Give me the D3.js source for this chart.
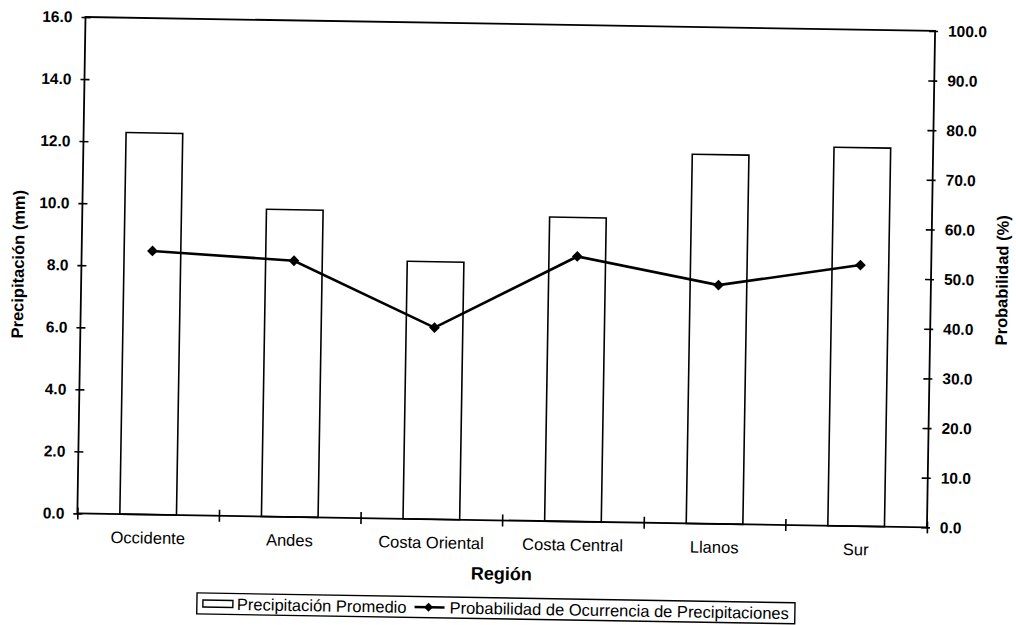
<!DOCTYPE html>
<html>
<head>
<meta charset="utf-8">
<script src="https://cdn.jsdelivr.net/npm/d3@7"></script>
<style>
  html, body { margin: 0; padding: 0; background: #fff; }
  svg { display: block; font-family: "Liberation Sans", Arial, sans-serif; }
</style>
</head>
<body>
<svg id="chart" width="1016" height="625"></svg>
<script>
// ---- data ----
const categories = ["Occidente", "Andes", "Costa Oriental", "Costa Central", "Llanos", "Sur"];
const precipitation = [12.3, 9.9, 8.3, 9.8, 11.9, 12.2];
const probability = [53.1, 51.6, 38.6, 53.4, 48.1, 52.6];
const leftTicks = [0, 2, 4, 6, 8, 10, 12, 14, 16];
const rightTicks = [0, 10, 20, 30, 40, 50, 60, 70, 80, 90, 100];
const boundaryTicks = [0, 1, 2, 3, 4, 5, 6];
const xTitle = "Región";
const yLeftTitle = "Precipitación (mm)";
const yRightTitle = "Probabilidad (%)";
const legendBar = "Precipitación Promedio";
const legendLine = "Probabilidad de Ocurrencia de Precipitaciones";

// ---- layout ----
const L = 85.5, R = 935.2, T = 17, B = 513.5;
const svg = d3.select("#chart");
svg.append("rect").attr("width", 1016).attr("height", 625).attr("fill", "#fff");
// the scanned original is tilted slightly clockwise
const g = svg.append("g").attr("transform", `rotate(0.94, ${L}, ${T})`);

const x = d3.scaleBand().domain(categories).range([L, R]).paddingInner(0.6).paddingOuter(0.3);
const xb = d3.scaleLinear().domain([0, 6]).range([L, R]);
const yL = d3.scaleLinear().domain([0, 16]).range([B, T]);
const yR = d3.scaleLinear().domain([0, 100]).range([B, T]);

// bars
g.append("g").selectAll("rect").data(categories).join("rect")
  .attr("x", d => x(d))
  .attr("y", (d, i) => yL(precipitation[i]))
  .attr("width", x.bandwidth())
  .attr("height", (d, i) => B - yL(precipitation[i]))
  .attr("fill", "#fff").attr("stroke", "#000").attr("stroke-width", 1.6);

// plot border
g.append("rect").attr("x", L).attr("y", T).attr("width", R - L).attr("height", B - T)
  .attr("fill", "none").attr("stroke", "#000").attr("stroke-width", 1.8);

// left axis
const axL = g.append("g").attr("transform", `translate(${L},0)`)
  .call(d3.axisLeft(yL).tickValues(leftTicks).tickFormat(d3.format(".1f")).tickSize(4).tickPadding(9));
axL.select(".domain").remove();
axL.selectAll(".tick line").attr("x1", 5).attr("x2", -4).attr("stroke-width", 1.6);
axL.selectAll(".tick text").attr("font-size", 15.5).attr("font-weight", "bold").attr("fill", "#000")
  .attr("font-family", "Liberation Sans, Arial, sans-serif");

// right axis
const axR = g.append("g").attr("transform", `translate(${R},0)`)
  .call(d3.axisRight(yR).tickValues(rightTicks).tickFormat(d3.format(".1f")).tickSize(3).tickPadding(10));
axR.select(".domain").remove();
axR.selectAll(".tick line").attr("x1", -6).attr("x2", 3).attr("stroke-width", 1.6);
axR.selectAll(".tick text").attr("font-size", 15.5).attr("font-weight", "bold").attr("fill", "#000")
  .attr("font-family", "Liberation Sans, Arial, sans-serif");

// bottom boundary ticks
const axB = g.append("g").attr("transform", `translate(0,${B})`)
  .call(d3.axisBottom(xb).tickValues(boundaryTicks).tickFormat("").tickSize(6));
axB.select(".domain").remove();
axB.selectAll(".tick line").attr("y1", -6).attr("y2", 6).attr("stroke-width", 1.6);

// category labels
const axC = g.append("g").attr("transform", `translate(0,${B})`)
  .call(d3.axisBottom(x).tickSize(0).tickPadding(0));
axC.select(".domain").remove();
axC.selectAll(".tick text").attr("y", 29).attr("dy", null)
  .attr("font-size", 16.5).attr("fill", "#000")
  .attr("font-family", "Liberation Sans, Arial, sans-serif");

// line series
const linePts = categories.map((c, i) => [x(c) + x.bandwidth() / 2, yR(probability[i])]);
g.append("path").datum(linePts)
  .attr("d", d3.line())
  .attr("fill", "none").attr("stroke", "#000").attr("stroke-width", 2.6);
const diamond = d3.symbol(d3.symbolSquare, 58);
g.append("g").selectAll("path").data(linePts).join("path")
  .attr("d", diamond)
  .attr("transform", d => `translate(${d[0]},${d[1]}) rotate(45)`)
  .attr("fill", "#000");

// titles
g.append("text").attr("x", (L + R) / 2).attr("y", 573).attr("text-anchor", "middle")
  .attr("font-size", 18).attr("font-weight", "bold").text(xTitle);
g.append("text").attr("transform", `translate(22,${(T + B) / 2}) rotate(-90)`)
  .attr("text-anchor", "middle").attr("dominant-baseline", "central")
  .attr("font-size", 16.5).attr("font-weight", "bold").text(yLeftTitle);
g.append("text").attr("transform", `translate(1006,${(T + B) / 2}) rotate(-90)`)
  .attr("text-anchor", "middle").attr("dominant-baseline", "central")
  .attr("font-size", 16.5).attr("font-weight", "bold").text(yRightTitle);

// legend
const lg = g.append("g");
const lgY = 601.5; // vertical centre of the legend row
const boxL = 206.5;
let cx = boxL + 6;
lg.append("rect").attr("x", cx).attr("y", lgY - 3.5).attr("width", 30).attr("height", 7)
  .attr("fill", "#fff").attr("stroke", "#000").attr("stroke-width", 1.4);
cx += 34;
const t1 = lg.append("text").attr("x", cx).attr("y", lgY).attr("dominant-baseline", "central")
  .attr("font-size", 16.5).text(legendBar);
cx += t1.node().getComputedTextLength() + 8;
lg.append("line").attr("x1", cx).attr("x2", cx + 30).attr("y1", lgY).attr("y2", lgY)
  .attr("stroke", "#000").attr("stroke-width", 2.4);
lg.append("path").attr("d", d3.symbol(d3.symbolSquare, 40))
  .attr("transform", `translate(${cx + 14},${lgY}) rotate(45)`).attr("fill", "#000");
cx += 35;
const t2 = lg.append("text").attr("x", cx).attr("y", lgY).attr("dominant-baseline", "central")
  .attr("font-size", 16.5).text(legendLine);
cx += t2.node().getComputedTextLength() + 6;
lg.insert("rect", ":first-child").attr("x", boxL).attr("y", lgY - 10.5)
  .attr("width", cx - boxL).attr("height", 21)
  .attr("fill", "#fff").attr("stroke", "#000").attr("stroke-width", 1.4);
</script>
</body>
</html>
